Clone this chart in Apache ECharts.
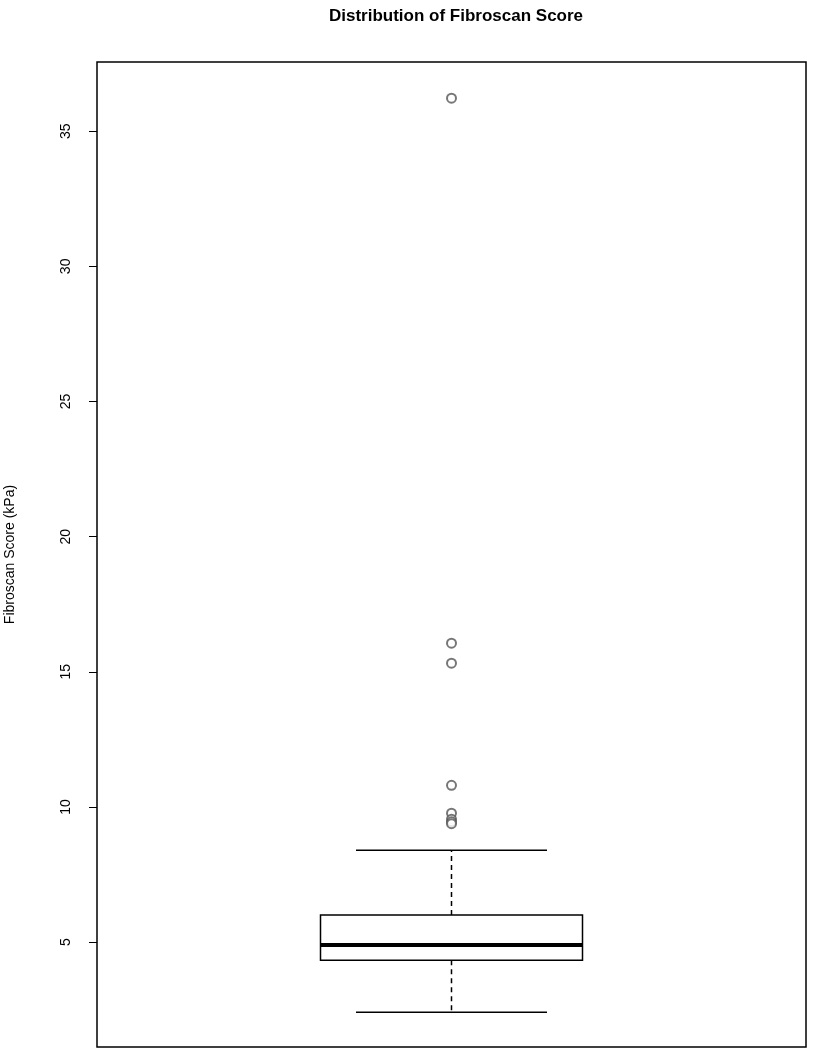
<!DOCTYPE html>
<html><head><meta charset="utf-8">
<script src="https://cdn.jsdelivr.net/npm/echarts@6/dist/echarts.min.js"></script>
<style>html,body{margin:0;padding:0;background:#fff}#c{width:815px;height:1050px}</style>
</head><body><div id="c"></div>
<script>
const categories = ['Fibroscan'];
const boxStats = [2.41, 4.33, 4.89, 6.0, 8.40]; // min, Q1, median, Q3, max
const outliers = [36.22, 16.06, 15.32, 10.8, 9.77, 9.55, 9.45, 9.38];
const tickValues = [5, 10, 15, 20, 25, 30, 35];

const chart = echarts.init(document.getElementById('c'));
chart.setOption({
  animation: false,
  title: {text: 'Distribution of Fibroscan Score', left: 451, top: 3, textAlign: 'center',
    textStyle: {fontFamily: 'Liberation Sans', fontWeight: 'bold', fontSize: 17, color: '#000'}},
  grid: {left: 97, right: 9, top: 62, bottom: 3, show: true, borderColor: '#000', borderWidth: 1.5,
    containLabel: false, outerBoundsMode: 'none'},
  xAxis: {type: 'category', data: categories, show: false},
  yAxis: {type: 'value', min: 1.12, max: 37.56,
    name: 'Fibroscan Score (kPa)', nameLocation: 'middle', nameGap: 80,
    nameTextStyle: {fontFamily: 'Liberation Sans', fontSize: 14, color: '#000'},
    axisLine: {show: false}, splitLine: {show: false},
    axisTick: {show: true, length: 8, customValues: tickValues, lineStyle: {color: '#000'}},
    axisLabel: {customValues: tickValues, rotate: 90, margin: 24, fontFamily: 'Liberation Sans', fontSize: 14, color: '#000'}},
  series: [{
    type: 'custom',
    data: [[0].concat(boxStats)],
    renderItem: function (params, api) {
      const x = api.value(0);
      const c = api.coord([x, api.value(3)]);
      const cx = c[0];
      const half = 131, cap = 95.5;
      const y = v => api.coord([x, api.value(v)])[1];
      const ymin = y(1), q1 = y(2), med = y(3), q3 = y(4), ymax = y(5);
      const ls = {stroke: '#000', lineWidth: 1.5, fill: null};
      return {type: 'group', children: [
        {type: 'line', shape: {x1: cx, y1: q3, x2: cx, y2: ymax}, style: Object.assign({lineDash: [5, 4]}, ls)},
        {type: 'line', shape: {x1: cx, y1: q1, x2: cx, y2: ymin}, style: Object.assign({lineDash: [5, 4]}, ls)},
        {type: 'line', shape: {x1: cx - cap, y1: ymax, x2: cx + cap, y2: ymax}, style: ls},
        {type: 'line', shape: {x1: cx - cap, y1: ymin, x2: cx + cap, y2: ymin}, style: ls},
        {type: 'rect', shape: {x: cx - half, y: q3, width: 2 * half, height: q1 - q3}, style: {stroke: '#000', lineWidth: 1.5, fill: '#fff'}},
        {type: 'line', shape: {x1: cx - half, y1: med, x2: cx + half, y2: med}, style: {stroke: '#000', lineWidth: 4}}
      ]};
    }
  }, {
    type: 'scatter',
    data: outliers.map(v => [0, v]),
    symbol: 'emptyCircle', symbolSize: 9, z: 5,
    itemStyle: {color: '#555', borderColor: '#555', borderWidth: 1.2}
  }]
});
</script></body></html>
